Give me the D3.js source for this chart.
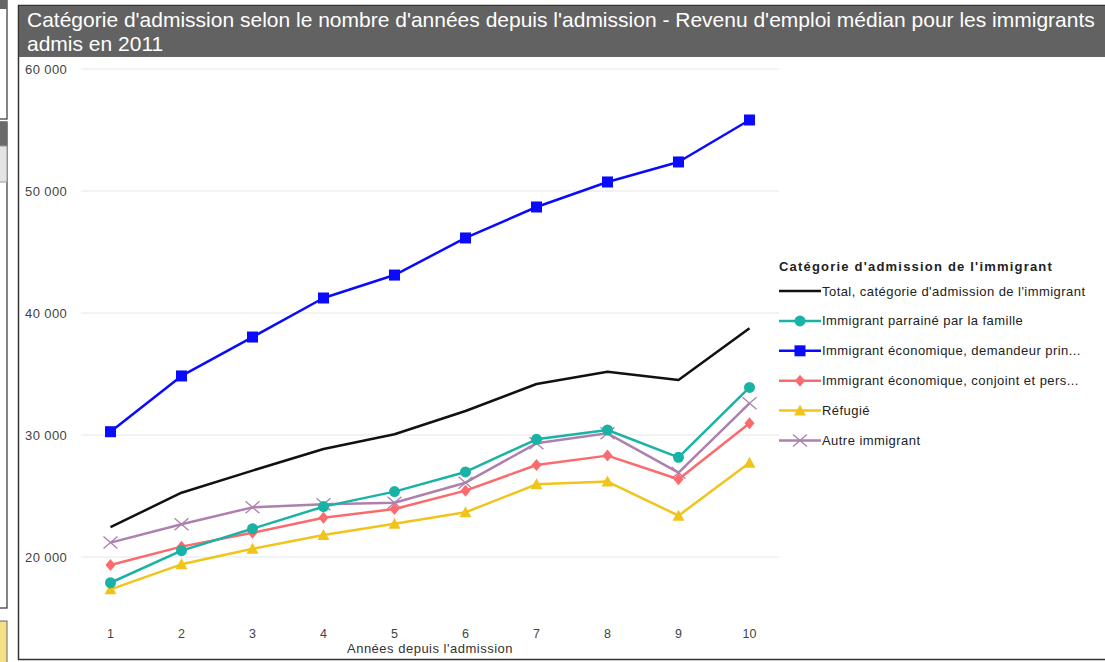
<!DOCTYPE html>
<html>
<head>
<meta charset="utf-8">
<script src="https://d3js.org/d3.v7.min.js"></script>
<style>
body { margin: 0; background: #fff; }
text { font-family: "Liberation Sans", Arial, sans-serif; }
</style>
</head>
<body>
<div id="chart"></div>
<script>
// data
var years = [1, 2, 3, 4, 5, 6, 7, 8, 9, 10];
var seriesNames = [
  "Total, catégorie d'admission de l'immigrant",
  "Immigrant parrainé par la famille",
  "Immigrant économique, demandeur prin...",
  "Immigrant économique, conjoint et pers...",
  "Réfugié",
  "Autre immigrant"
];
var total     = [22450, 25270, 27080, 28850, 30060, 31970, 34180, 35190, 34510, 38750];
var famille   = [17890, 20520, 22320, 24130, 25360, 26970, 29650, 30410, 28170, 33900];
var demandeur = [30270, 34840, 38030, 41230, 43110, 46150, 48690, 50740, 52380, 55820];
var conjoint  = [19340, 20850, 21990, 23220, 23930, 25440, 27540, 28310, 26370, 30960];
var refugie   = [17350, 19400, 20680, 21800, 22730, 23660, 25960, 26180, 23390, 27730];
var autre     = [21180, 22680, 24070, 24320, 24450, 26090, 29320, 30140, 26910, 32600];
var yTicks = [20000, 30000, 40000, 50000, 60000];

var colors  = ["#111111", "#19b3a6", "#0a0aff", "#fb6a6c", "#f1c41c", "#ad80ad"];
var markers = [null, "circle", "square", "diamond", "triangle", "cross"];
var values  = [total, famille, demandeur, conjoint, refugie, autre];

var width = 1105, height = 662;
var svg = d3.select("#chart").append("svg").attr("width", width).attr("height", height);

// bits of neighbouring panels on the left edge
svg.append("rect").attr("x", -2).attr("y", -2).attr("width", 9).attr("height", 121)
  .attr("fill", "#fff").attr("stroke", "#333").attr("stroke-width", 1.2);
svg.append("rect").attr("x", -2).attr("y", -2).attr("width", 9).attr("height", 11).attr("fill", "#666");
svg.append("rect").attr("x", -2).attr("y", 122).attr("width", 9).attr("height", 486)
  .attr("fill", "#fff").attr("stroke", "#333").attr("stroke-width", 1.2);
svg.append("rect").attr("x", -2).attr("y", 122).attr("width", 9).attr("height", 24).attr("fill", "#6a6a6a");
svg.append("rect").attr("x", -2).attr("y", 146).attr("width", 9).attr("height", 36)
  .attr("fill", "#e4e4e4").attr("stroke", "#999");
svg.append("rect").attr("x", -2).attr("y", 621).attr("width", 9).attr("height", 42)
  .attr("fill", "#f6df86").attr("stroke", "#666");

// main panel
svg.append("rect").attr("x", 18.5).attr("y", 5.5).attr("width", 1090).attr("height", 654)
  .attr("fill", "#fff").attr("stroke", "#333").attr("stroke-width", 1.5);
svg.append("rect").attr("x", 19).attr("y", 6).attr("width", 1090).attr("height", 51).attr("fill", "#626262");

var title = svg.append("text").attr("fill", "#fff").style("font-size", "21px");
title.append("tspan").attr("x", 27).attr("y", 27)
  .text("Catégorie d'admission selon le nombre d'années depuis l'admission - Revenu d'emploi médian pour les immigrants");
title.append("tspan").attr("x", 27).attr("y", 51).text("admis en 2011");

var x = d3.scalePoint().domain(years).range([75, 785]).padding(0.5);
var y = d3.scaleLinear().domain([15000, 60000]).range([618, 69]);

var fmt = d3.formatLocale({ decimal: ",", thousands: "\u00a0", grouping: [3], currency: ["", " $"] }).format(",");

// grid
svg.append("g").selectAll("line").data(yTicks).enter().append("line")
  .attr("x1", 81).attr("x2", 779)
  .attr("y1", function(d) { return y(d); }).attr("y2", function(d) { return y(d); })
  .attr("stroke", "#e6e6e6").attr("stroke-width", 1);

svg.append("g").selectAll("text").data(yTicks).enter().append("text")
  .attr("x", 25).attr("y", function(d) { return y(d) + 4.5; })
  .attr("fill", "#444").style("font-size", "13px").style("letter-spacing", "0.4px")
  .text(function(d) { return fmt(d); });

svg.append("g").selectAll("text").data(years).enter().append("text")
  .attr("x", function(d) { return x(d); }).attr("y", 638)
  .attr("text-anchor", "middle").attr("fill", "#444").style("font-size", "12.5px")
  .text(function(d) { return d; });

svg.append("text").attr("x", 430).attr("y", 653).attr("text-anchor", "middle")
  .attr("fill", "#333").style("font-size", "13px").style("letter-spacing", "0.5px")
  .text("Années depuis l'admission");

function drawMarker(g, type, color) {
  if (type === "circle") {
    g.append("circle").attr("r", 5.5).attr("fill", color);
  } else if (type === "square") {
    g.append("rect").attr("x", -5.5).attr("y", -5.5).attr("width", 11).attr("height", 11).attr("fill", color);
  } else if (type === "diamond") {
    g.append("path").attr("d", "M0,-6L5,0L0,6L-5,0Z").attr("fill", color);
  } else if (type === "triangle") {
    g.append("path").attr("d", "M0,-6L6,5L-6,5Z").attr("fill", color);
  } else if (type === "cross") {
    g.append("path").attr("d", "M-7,-6L7,6M-7,6L7,-6").attr("stroke", color).attr("stroke-width", 1.3).attr("fill", "none");
  }
}

var line = d3.line()
  .x(function(d, i) { return x(years[i]); })
  .y(function(d) { return y(d); });

// draw lines, back to front like the reference
var order = [5, 4, 3, 1, 0, 2];
order.forEach(function(s) {
  var g = svg.append("g");
  g.append("path").datum(values[s]).attr("d", line)
    .attr("fill", "none").attr("stroke", colors[s]).attr("stroke-width", 2.5)
    .attr("stroke-linejoin", "round");
  if (markers[s]) {
    g.selectAll("g").data(values[s]).enter().append("g")
      .attr("transform", function(d, i) { return "translate(" + x(years[i]) + "," + y(d) + ")"; })
      .each(function() { drawMarker(d3.select(this), markers[s], colors[s]); });
  }
});

// legend
var legend = svg.append("g");
legend.append("text").attr("x", 779).attr("y", 271).attr("fill", "#222")
  .style("font-size", "13px").style("font-weight", "bold").style("letter-spacing", "1.2px")
  .text("Catégorie d'admission de l'immigrant");

var items = legend.selectAll("g.item").data(seriesNames).enter().append("g")
  .attr("class", "item")
  .attr("transform", function(d, i) { return "translate(779," + (291 + i * 29.9) + ")"; });
items.append("line").attr("x1", 0).attr("x2", 42)
  .attr("stroke", function(d, i) { return colors[i]; }).attr("stroke-width", 2.5);
items.each(function(d, i) {
  if (markers[i]) {
    var m = d3.select(this).append("g").attr("transform", "translate(21,0)");
    drawMarker(m, markers[i], colors[i]);
  }
});
items.append("text").attr("x", 43).attr("y", 4.5).attr("fill", "#222")
  .style("font-size", "13px").style("letter-spacing", "0.45px")
  .text(function(d) { return d; });
</script>
</body>
</html>
